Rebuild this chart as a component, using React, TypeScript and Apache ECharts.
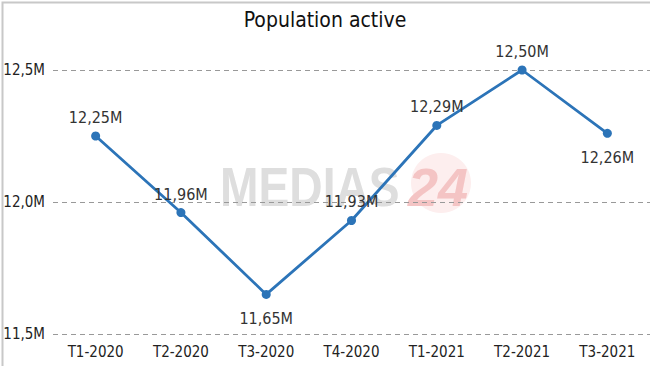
import React, { useEffect, useRef } from "react";
import * as echarts from "echarts";

const categories = ["T1-2020", "T2-2020", "T3-2020", "T4-2020", "T1-2021", "T2-2021", "T3-2021"];
const values = [12.25, 11.96, 11.65, 11.93, 12.29, 12.5, 12.26];
const labelBelow = [false, false, true, false, false, false, true];
const yTicks = [11.5, 12.0, 12.5];

const FONT = "'DejaVu Sans Condensed', 'Liberation Sans Narrow', 'Roboto', sans-serif";
const fmt = (v: number, d: number) => v.toFixed(d).replace(".", ",") + "M";

export default function App() {
  const ref = useRef<HTMLDivElement>(null);
  useEffect(() => {
    document.body.style.margin = "0";
    if (!ref.current) return;
    const chart = echarts.init(ref.current, undefined, { renderer: "svg" });
    chart.setOption({
      animation: false,
      backgroundColor: "#fff",
      title: {
        text: "Population active",
        left: "center",
        top: 4,
        textStyle: { fontFamily: FONT, fontSize: 21, fontWeight: "normal", color: "#111" },
      },
      graphic: [
        {
          type: "rect",
          left: 0,
          top: 0,
          shape: { width: 649, height: 365 },
          style: { fill: "none", stroke: "#c8c8c8", lineWidth: 2 },
          z: 100,
        },
        {
          type: "circle",
          shape: { cx: 441, cy: 183, r: 30 },
          style: { fill: "#fdeeee" },
          z: -2,
        },
        {
          type: "text",
          x: 220,
          y: 160,
          scaleX: 0.84,
          style: {
            text: "MEDIAS",
            fontFamily: "'Liberation Sans', Arial, sans-serif",
            fontWeight: "bold",
            fontSize: 55,
            fill: "#dedede",
          },
          z: -1,
        },
        {
          type: "text",
          x: 408,
          y: 160,
          style: {
            text: "24",
            fontFamily: "'Liberation Sans', Arial, sans-serif",
            fontWeight: "bold",
            fontStyle: "italic",
            fontSize: 54,
            fill: "#f4c4c4",
          },
          z: -1,
        },
      ],
      grid: { left: 53, right: -3, top: 70, bottom: 32, containLabel: false },
      xAxis: {
        type: "category",
        data: categories,
        boundaryGap: true,
        axisLine: { show: false },
        axisTick: { show: false },
        axisLabel: { fontFamily: FONT, fontSize: 15, color: "#222", margin: 10 },
      },
      yAxis: {
        type: "value",
        min: 11.5,
        max: 12.5,
        interval: 0.5,
        axisLine: { show: false },
        axisTick: { show: false },
        axisLabel: {
          fontFamily: FONT,
          fontSize: 15,
          color: "#222",
          margin: 8,
          formatter: (v: number) => (yTicks.includes(v) ? fmt(v, 1) : ""),
        },
        splitLine: { lineStyle: { type: [5, 4], color: "#999", width: 1 } },
      },
      series: [
        {
          type: "line",
          data: values.map((v, i) => ({
            value: v,
            label: labelBelow[i]
              ? { position: "bottom", distance: 12 }
              : { position: "top", distance: 6 },
          })),
          symbol: "circle",
          symbolSize: 9,
          lineStyle: { color: "#2c74b8", width: 2.8 },
          itemStyle: { color: "#2c74b8" },
          label: {
            show: true,
            fontFamily: FONT,
            fontSize: 16,
            color: "#333",
            formatter: (p: any) => fmt(p.value, 2),
          },
        },
      ],
    });
    return () => chart.dispose();
  }, []);
  return <div ref={ref} style={{ width: 650, height: 366 }} />;
}
